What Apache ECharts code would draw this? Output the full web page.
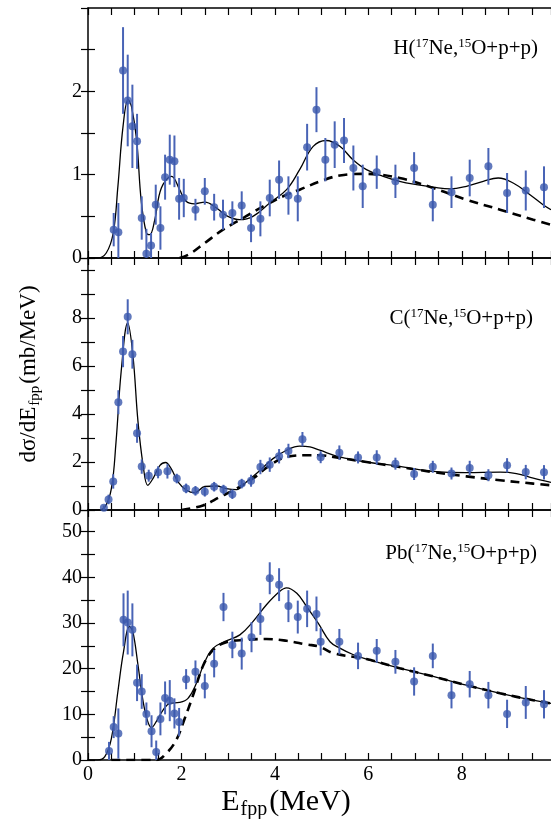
<!DOCTYPE html>
<html>
<head>
<meta charset="utf-8">
<style>
html, body { margin: 0; padding: 0; background: #fff; }
#chart { width: 551px; height: 819px; }
</style>
<script src="https://cdn.jsdelivr.net/npm/echarts@6/dist/echarts.min.js"></script>
</head>
<body>
<div id="chart"></div>
<script>
// H target: data points (MeV, mb/MeV, error)
const hE = [0.55, 0.65, 0.75, 0.85, 0.95, 1.05, 1.15, 1.25, 1.35, 1.45, 1.55, 1.65, 1.75, 1.85, 1.95, 2.05,
  2.30, 2.50, 2.70, 2.89, 3.09, 3.29, 3.49, 3.69, 3.89, 4.09, 4.29, 4.49, 4.69, 4.89,
  5.08, 5.28, 5.48, 5.68, 5.88, 6.18, 6.58, 6.98, 7.38, 7.78, 8.17, 8.57, 8.97, 9.37, 9.76];
const hY = [0.34, 0.31, 2.25, 1.89, 1.58, 1.40, 0.48, 0.05, 0.15, 0.64, 0.36, 0.97, 1.18, 1.16, 0.71, 0.72,
  0.58, 0.80, 0.61, 0.52, 0.54, 0.63, 0.36, 0.47, 0.72, 0.94, 0.75, 0.71, 1.33, 1.78,
  1.18, 1.36, 1.41, 1.08, 0.86, 1.03, 0.92, 1.08, 0.64, 0.79, 0.96, 1.10, 0.78, 0.81, 0.85];
const hErr = [0.2, 0.35, 0.52, 0.55, 0.5, 0.33, 0.26, 0.3, 0.15, 0.24, 0.26, 0.27, 0.3, 0.31, 0.25, 0.23,
  0.13, 0.16, 0.16, 0.18, 0.14, 0.17, 0.17, 0.21, 0.22, 0.23, 0.23, 0.27, 0.28, 0.27,
  0.26, 0.28, 0.27, 0.27, 0.26, 0.2, 0.2, 0.19, 0.2, 0.19, 0.22, 0.22, 0.24, 0.24, 0.25];
const hFitX = [0, 0.2, 0.39, 0.54, 0.64, 0.75, 0.86, 0.93, 1.04, 1.14, 1.25, 1.32, 1.43, 1.57, 1.79, 1.96, 2.1, 2.28, 2.5,
  2.75, 2.96, 3.25, 3.53, 3.89, 4.25, 4.53, 4.82, 5.1, 5.39, 5.67, 5.96, 6.32, 6.67, 7.03, 7.39, 7.75, 8.1,
  8.46, 8.78, 9.1, 9.46, 9.74, 9.91];
const hFitY = [0, 0, 0.06, 0.3, 0.86, 1.58, 1.9, 1.82, 1.42, 0.68, 0.3, 0.28, 0.46, 0.84, 0.98, 0.82, 0.68, 0.65, 0.67,
  0.6, 0.51, 0.46, 0.5, 0.66, 0.82, 1.06, 1.34, 1.41, 1.34, 1.18, 1.06, 0.98, 0.92, 0.88, 0.85, 0.83, 0.86,
  0.92, 0.96, 0.9, 0.76, 0.64, 0.58];
const hBgX = [1.96, 2.18, 2.5, 2.89, 3.32, 3.75, 4.25, 4.53, 4.97, 5.39, 5.9, 6.67, 7.39, 8.1, 8.82, 9.53, 9.91];
const hBgY = [0, 0.05, 0.18, 0.34, 0.48, 0.62, 0.76, 0.82, 0.92, 0.99, 1.01, 0.96, 0.84, 0.7, 0.58, 0.46, 0.4];

// C target
const cE = [0.34, 0.44, 0.54, 0.65, 0.75, 0.85, 0.95, 1.05, 1.15, 1.30, 1.50, 1.70, 1.90, 2.10, 2.30, 2.50, 2.70, 2.90,
  3.09, 3.29, 3.49, 3.69, 3.89, 4.09, 4.29, 4.59, 4.98, 5.38, 5.78, 6.18, 6.58, 6.98, 7.38, 7.78, 8.17, 8.57,
  8.97, 9.37, 9.76];
const cY = [0.09, 0.44, 1.19, 4.49, 6.6, 8.05, 6.49, 3.2, 1.81, 1.43, 1.57, 1.61, 1.31, 0.9, 0.8, 0.76, 0.97, 0.85,
  0.66, 1.1, 1.22, 1.79, 1.89, 2.24, 2.46, 2.95, 2.2, 2.39, 2.19, 2.19, 1.93, 1.5, 1.8, 1.52, 1.75, 1.45,
  1.86, 1.58, 1.57];
const cErr = [0.1, 0.2, 0.3, 0.5, 0.65, 0.73, 0.6, 0.4, 0.3, 0.25, 0.25, 0.3, 0.2, 0.2, 0.2, 0.2, 0.2, 0.2,
  0.2, 0.2, 0.25, 0.3, 0.3, 0.3, 0.3, 0.3, 0.25, 0.3, 0.25, 0.3, 0.25, 0.25, 0.25, 0.25, 0.3, 0.25,
  0.3, 0.3, 0.3];
const cFitX = [0, 0.2, 0.36, 0.5, 0.6, 0.71, 0.85, 0.96, 1.07, 1.18, 1.28, 1.39, 1.54, 1.66, 1.78, 1.93, 2.11, 2.28, 2.5,
  2.75, 2.96, 3.18, 3.39, 3.68, 3.96, 4.25, 4.53, 4.75, 4.96, 5.39, 5.96, 6.67, 7.39, 8.1, 8.82, 9.17,
  9.53, 9.91];
const cFitY = [0, 0, 0.12, 0.89, 2.84, 5.77, 7.8, 6.47, 3.68, 1.86, 1.03, 1.31, 1.86, 1.98, 1.72, 1.16, 0.82, 0.72, 0.98,
  1.0, 0.89, 0.85, 1.17, 1.65, 2.14, 2.49, 2.66, 2.63, 2.49, 2.21, 2.0, 1.82, 1.61, 1.56, 1.58, 1.52,
  1.33, 1.15];
const cBgX = [2.0, 2.46, 2.82, 3.18, 3.53, 3.89, 4.25, 4.68, 4.96, 5.25, 5.96, 6.67, 7.39, 8.1, 8.82, 9.53, 9.91];
const cBgY = [0, 0.19, 0.54, 0.89, 1.31, 1.86, 2.21, 2.28, 2.28, 2.21, 2.0, 1.79, 1.58, 1.4, 1.24, 1.1, 1.03];

// Pb target
const pE = [0.45, 0.55, 0.65, 0.76, 0.85, 0.95, 1.05, 1.15, 1.25, 1.36, 1.46, 1.55, 1.65, 1.75, 1.85, 1.95, 2.1, 2.3,
  2.5, 2.7, 2.9, 3.09, 3.29, 3.5, 3.69, 3.89, 4.09, 4.29, 4.49, 4.69, 4.89, 4.98, 5.38, 5.78, 6.18, 6.58,
  6.98, 7.38, 7.78, 8.17, 8.57, 8.97, 9.37, 9.76];
const pY = [1.97, 7.2, 5.8, 30.7, 30.1, 28.5, 16.9, 15.0, 10.1, 6.3, 1.76, 9.0, 13.6, 13.0, 10.2, 8.3, 17.7, 19.3,
  16.2, 21.1, 33.5, 25.2, 23.3, 26.9, 30.9, 39.8, 38.4, 33.7, 31.3, 33.1, 32.0, 25.9, 25.9, 22.8, 23.9, 21.5,
  17.2, 22.8, 14.2, 16.6, 14.2, 10.1, 12.6, 12.2];
const pErr = [2, 2.4, 5.5, 5.8, 7, 5.8, 4, 3.8, 2.5, 3.5, 2.5, 3.6, 3.6, 4.5, 3.3, 3.1, 2.2, 2.5,
  2.7, 3, 3.1, 2.9, 3.5, 3.3, 3.5, 3.5, 3.6, 3.5, 3.6, 4, 3.8, 3, 2.8, 2.9, 2.6, 2.6,
  3.1, 2.7, 2.9, 2.9, 2.9, 3.1, 3.6, 3.1];
const pFitX = [0, 0.21, 0.36, 0.5, 0.64, 0.76, 0.89, 0.96, 1.07, 1.18, 1.28, 1.36, 1.46, 1.61, 1.75, 1.96, 2.14, 2.32,
  2.5, 2.68, 2.96, 3.25, 3.53, 3.82, 4.1, 4.25, 4.47, 4.68, 4.93, 5.18, 5.39, 5.67, 5.96, 6.67, 7.39, 8.1,
  8.82, 9.53, 9.91];
const pFitY = [0, 0, 0.73, 4.7, 15, 23.7, 29.2, 28.1, 20.8, 12.8, 8.4, 7.1, 8.4, 11.0, 12.4, 12.6, 13.5, 16.8,
  21.5, 24.5, 26.1, 27.4, 30.3, 34.0, 36.9, 37.7, 36.5, 33.6, 29.9, 25.9, 24.5, 23.1, 22.1, 20.1, 18.3, 16.4,
  14.6, 13.1, 12.4];
const pBgX = [0.5, 1.46, 1.68, 1.89, 2.07, 2.25, 2.47, 2.68, 2.96, 3.39, 3.82, 4.25, 4.68, 4.96, 5.25, 5.96, 6.67,
  7.39, 8.1, 8.82, 9.53, 9.91];
const pBgY = [0, 0, 1.5, 4.4, 9.1, 14.2, 20.8, 24.1, 25.8, 26.3, 26.5, 26.1, 25.3, 24.8, 23.4, 22.1, 20.1,
  18.3, 16.4, 14.6, 13.1, 12.4];

// axis ticks
const xTicks = [0, 2, 4, 6, 8];
const hTicks = [0, 1, 2];
const cTicks = [0, 2, 4, 6, 8];
const pTicks = [0, 10, 20, 30, 40, 50];

const FONT = 'Liberation Serif';
const DOT = '#3a57ad';
const BAR = '#4964b6';
const X_MAX = 9.91;

function zip(...cols) {
  return cols[0].map((_, i) => cols.map(c => c[i]));
}

const panels = [
  { pts: zip(hE, hY, hErr), fit: zip(hFitX, hFitY), bg: zip(hBgX, hBgY), top: 8, height: 250, yMax: 3, yStep: 0.5, ticks: hTicks,
    title: '{n|H(}{s|17}{n|Ne,}{s|15}{n|O+p+p)}', tx: 538, ty: 48 },
  { pts: zip(cE, cY, cErr), fit: zip(cFitX, cFitY), bg: zip(cBgX, cBgY), top: 258, height: 252, yMax: 10.5, yStep: 1, ticks: cTicks,
    title: '{n|C(}{s|17}{n|Ne,}{s|15}{n|O+p+p)}', tx: 533, ty: 318 },
  { pts: zip(pE, pY, pErr), fit: zip(pFitX, pFitY), bg: zip(pBgX, pBgY), top: 510, height: 250, yMax: 54.75, yStep: 5, ticks: pTicks,
    title: '{n|Pb(}{s|17}{n|Ne,}{s|15}{n|O+p+p)}', tx: 537, ty: 553 }
];

const axisLine = { show: true, onZero: false, lineStyle: { color: '#000', width: 1.5 } };
const axisTick = { show: true, inside: true, length: 7, lineStyle: { color: '#000', width: 1.2 } };
const labelFont = { fontFamily: FONT, fontSize: 20, color: '#000' };

function inList(list, v) {
  return list.some(t => Math.abs(t - v) < 1e-6);
}

const grid = [];
const xAxis = [];
const yAxis = [];
const series = [];

panels.forEach((p, i) => {
  grid.push({ left: 88, right: 0, top: p.top, height: p.height });
  ['bottom', 'top'].forEach(pos => {
    xAxis.push({
      type: 'value', gridIndex: i, position: pos, min: 0, max: X_MAX, interval: 0.5,
      axisLine, axisTick, splitLine: { show: false },
      axisLabel: Object.assign({
        show: i === 2 && pos === 'bottom', margin: 5, showMaxLabel: false,
        formatter: v => inList(xTicks, v) ? String(v) : ''
      }, labelFont)
    });
  });
  ['left', 'right'].forEach(pos => {
    yAxis.push({
      type: 'value', gridIndex: i, position: pos, min: 0, max: p.yMax, interval: p.yStep,
      axisLine: pos === 'left' ? axisLine : { show: false }, axisTick, splitLine: { show: false },
      axisLabel: Object.assign({
        show: pos === 'left', margin: 6, showMaxLabel: false,
        formatter: v => inList(p.ticks, v) ? String(v) : ''
      }, labelFont)
    });
  });
  const xi = i * 2, yi = i * 2;
  series.push({
    type: 'line', xAxisIndex: xi, yAxisIndex: yi, data: p.bg, smooth: 0.4, showSymbol: false,
    lineStyle: { color: '#000', width: 2.6, type: [9, 6] }, z: 3
  });
  series.push({
    type: 'line', xAxisIndex: xi, yAxisIndex: yi, data: p.fit, smooth: 0.4, showSymbol: false,
    lineStyle: { color: '#000', width: 1.3 }, z: 4
  });
  series.push({
    type: 'custom', xAxisIndex: xi, yAxisIndex: yi, data: p.pts, clip: true, z: 5,
    encode: { x: 0, y: 1 },
    renderItem: (params, api) => {
      const x = api.value(0), y = api.value(1), e = api.value(2);
      const lo = api.coord([x, y - e]);
      const hi = api.coord([x, y + e]);
      return {
        type: 'line',
        shape: { x1: lo[0], y1: lo[1], x2: hi[0], y2: hi[1] },
        style: { stroke: BAR, lineWidth: 2 }
      };
    }
  });
  series.push({
    type: 'scatter', xAxisIndex: xi, yAxisIndex: yi, data: p.pts.map(d => [d[0], d[1]]),
    symbol: 'circle', symbolSize: 8, itemStyle: { color: DOT }, z: 6, clip: true
  });
});

const supRich = {
  n: { fontFamily: FONT, fontSize: 21, lineHeight: 24, color: '#000' },
  s: { fontFamily: FONT, fontSize: 13, lineHeight: 13, padding: [0, 0, 8, 0], color: '#000' }
};

const graphic = panels.map(p => ({
  type: 'text', x: p.tx, y: p.ty, z: 10,
  style: { text: p.title, rich: supRich, align: 'right', verticalAlign: 'middle' }
}));

graphic.push({
  type: 'text', x: 286, y: 802, z: 10,
  style: {
    text: '{n|E}{s|fpp}{n|(MeV)}', align: 'center', verticalAlign: 'middle',
    rich: {
      n: { fontFamily: FONT, fontSize: 30, lineHeight: 32, color: '#000' },
      s: { fontFamily: FONT, fontSize: 20, lineHeight: 20, padding: [15, 2, 0, 1], color: '#000' }
    }
  }
});

graphic.push({
  type: 'text', x: 29, y: 374, rotation: Math.PI / 2, z: 10,
  style: {
    text: '{n|dσ/dE}{s|fpp}{n|(mb/MeV)}', align: 'center', verticalAlign: 'middle',
    rich: {
      n: { fontFamily: FONT, fontSize: 23, lineHeight: 25, color: '#000' },
      s: { fontFamily: FONT, fontSize: 15, lineHeight: 15, padding: [12, 2, 0, 1], color: '#000' }
    }
  }
});

const chart = echarts.init(document.getElementById('chart'));
chart.setOption({
  animation: false,
  backgroundColor: '#fff',
  grid, xAxis, yAxis, series, graphic
});
</script>
</body>
</html>
